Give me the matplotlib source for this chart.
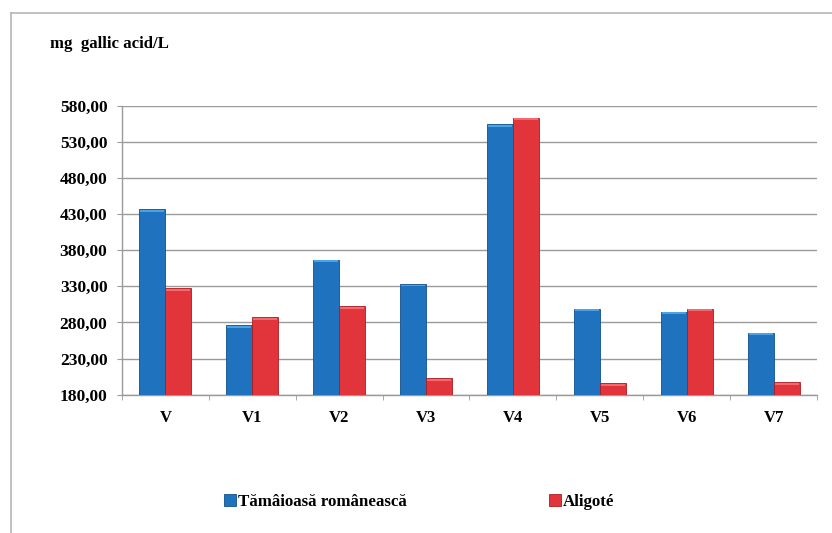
import matplotlib.pyplot as plt
import matplotlib.ticker as mticker
import matplotlib.patches as mpatches
import numpy as np

# data
samples = ['V', 'V1', 'V2', 'V3', 'V4', 'V5', 'V6', 'V7']
tamaioasa = [437.0, 276.0, 367.0, 333.5, 554.0, 299.0, 295.0, 266.0]
aligote = [327.0, 287.0, 302.5, 202.5, 563.5, 195.5, 299.0, 197.5]
yticks = [180, 230, 280, 330, 380, 430, 480, 530, 580]

blue = '#1f72bd'
blue_edge = '#10508c'
red = '#e2353b'
red_edge = '#a81c22'
grid_col = '#9a9a9a'

plt.rcParams['font.family'] = ['Liberation Serif', 'DejaVu Serif']
plt.rcParams['font.weight'] = 'bold'

fig = plt.figure(figsize=(8.32, 5.33), dpi=100)
ax = fig.add_axes([0.1466, 0.2595, 0.8354, 0.5422])

x = np.arange(len(samples))
w = 0.3
ax.bar(x - w / 2, np.array(tamaioasa) - 180, w, bottom=180, color=blue,
       edgecolor=blue_edge, linewidth=0.6, zorder=3)
ax.bar(x + w / 2, np.array(aligote) - 180, w, bottom=180, color=red,
       edgecolor=red_edge, linewidth=0.6, zorder=3)

# lighter caps on the bar tops, a bit like the 3-d look of the original
for xi, v in zip(x, tamaioasa):
    ax.bar(xi - w / 2, 2.5, w * 0.92, bottom=v - 3.5, color='#4aa3e6', linewidth=0, zorder=4)
for xi, v in zip(x, aligote):
    ax.bar(xi + w / 2, 2.5, w * 0.92, bottom=v - 3.5, color='#f26a6e', linewidth=0, zorder=4)

ax.set_ylim(180, 580)
ax.set_xlim(-0.5, len(samples) - 0.5)
ax.set_yticks(yticks)
ax.yaxis.set_major_formatter(mticker.FuncFormatter(lambda v, p: f'{v:.2f}'.replace('.', ',')))
ax.yaxis.grid(True, color=grid_col, linewidth=1.0, zorder=0)
ax.set_axisbelow(True)

ax.set_xticks(x)
ax.set_xticklabels(samples)
ax.set_xticks(np.arange(-0.5, len(samples) + 0.5, 1), minor=True)
ax.tick_params(axis='x', which='major', length=0, pad=11, labelsize=12)
ax.tick_params(axis='x', which='minor', length=3.5, color=grid_col, direction='out')
ax.tick_params(axis='y', length=3.5, color=grid_col, pad=7, labelsize=12.5)

for s in ['top', 'right']:
    ax.spines[s].set_visible(False)
for s in ['left', 'bottom']:
    ax.spines[s].set_color(grid_col)
    ax.spines[s].set_linewidth(1.0)

fig.text(0.06, 0.917, 'mg  gallic acid/L', fontsize=12.1, fontweight='bold', va='center')

# outer frame lines of the chart area
fig.add_artist(plt.Line2D([11 / 832, 11 / 832], [0, 1 - 13 / 533], color='#b5b5b5', linewidth=1.2))
fig.add_artist(plt.Line2D([11 / 832, 1], [1 - 13 / 533, 1 - 13 / 533], color='#b5b5b5', linewidth=1.2))

h1 = mpatches.Patch(facecolor=blue, edgecolor=blue_edge, linewidth=0.6)
h2 = mpatches.Patch(facecolor=red, edgecolor=red_edge, linewidth=0.6)
fig.legend([h1], ['Tămâioasă românească'], loc='center left', bbox_to_anchor=(0.251, 0.058),
           frameon=False, fontsize=12.2, handlelength=0.7, handleheight=0.7, handletextpad=0.12)
fig.legend([h2], ['Aligoté'], loc='center left', bbox_to_anchor=(0.642, 0.058),
           frameon=False, fontsize=12.2, handlelength=0.7, handleheight=0.7, handletextpad=0.12)

fig.savefig('out.png', dpi=100)
